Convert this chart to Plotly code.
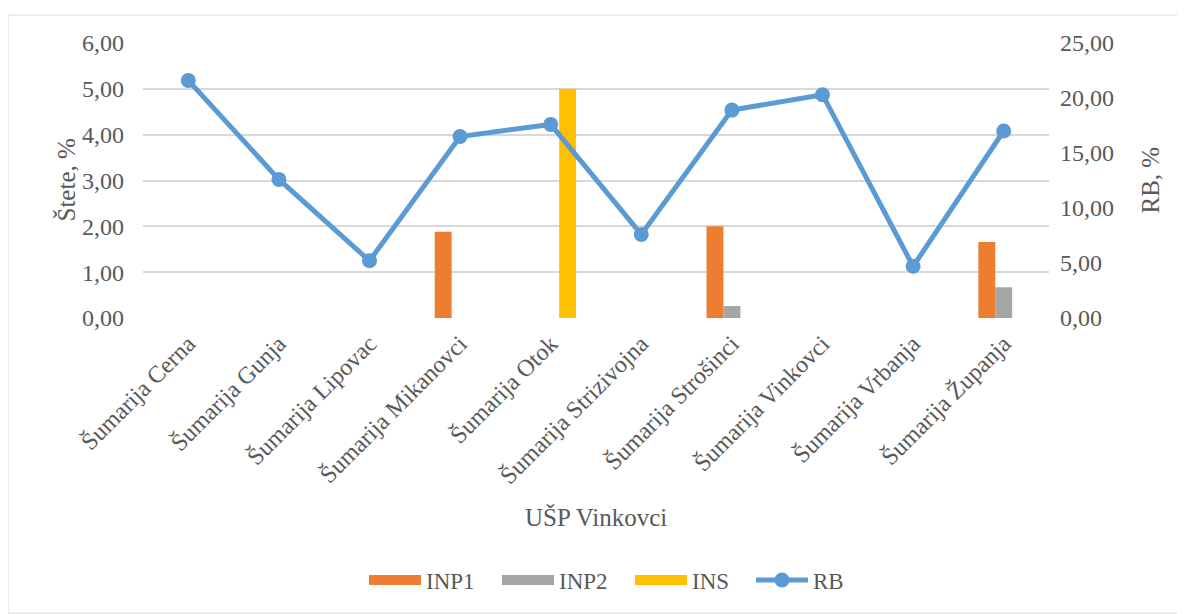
import plotly.graph_objects as go

categories = ["Šumarija Cerna", "Šumarija Gunja", "Šumarija Lipovac", "Šumarija Mikanovci",
              "Šumarija Otok", "Šumarija Strizivojna", "Šumarija Strošinci", "Šumarija Vinkovci",
              "Šumarija Vrbanja", "Šumarija Županja"]
inp1 = [None, None, None, 1.88, None, None, 2.00, None, None, 1.66]
inp2 = [None, None, None, None, None, None, 0.26, None, None, 0.67]
ins = [None, None, None, None, 5.00, None, None, None, None, None]
rb = [21.6, 12.6, 5.2, 16.5, 17.6, 7.6, 18.9, 20.3, 4.7, 17.0]
left_ticks = [0, 1, 2, 3, 4, 5, 6]
right_ticks = [0, 5, 10, 15, 20, 25]

FONT = "Liberation Serif"
TXT = "#595959"
C_INP1, C_INP2, C_INS, C_RB = "#ED7D31", "#A5A5A5", "#FFC000", "#5B9BD5"

fig = go.Figure()
fig.add_trace(go.Bar(x=categories, y=inp1, name="INP1", marker_color=C_INP1, showlegend=False))
fig.add_trace(go.Bar(x=categories, y=inp2, name="INP2", marker_color=C_INP2, showlegend=False))
fig.add_trace(go.Bar(x=categories, y=ins, name="INS", marker_color=C_INS, showlegend=False))
fig.add_trace(go.Scatter(x=categories, y=rb, name="RB", yaxis="y2", mode="lines+markers",
                         line=dict(color=C_RB, width=5),
                         marker=dict(color=C_RB, size=15), showlegend=False))
# legend entries (swatches styled like the reference)
for nm, col, lw in [("INP1", C_INP1, 66), ("INP2", C_INP2, 66), ("INS", C_INS, 54)]:
    fig.add_trace(go.Scatter(x=[None], y=[None], name=nm, mode="lines", legendwidth=lw,
                             line=dict(color=col, width=13)))
fig.add_trace(go.Scatter(x=[None], y=[None], name="RB", mode="lines+markers", yaxis="y2",
                         line=dict(color=C_RB, width=5), marker=dict(color=C_RB, size=15)))

L, T, PW, PH = 135, 35, 906, 275
fig.update_layout(
    template="none",
    width=1185, height=614,
    margin=dict(l=L, r=1185 - L - PW, t=T, b=614 - T - PH, pad=0),
    paper_bgcolor="white", plot_bgcolor="white",
    font=dict(family=FONT, color=TXT, size=24),
    barmode="group", bargap=0.44, bargroupgap=0,
    showlegend=True,
    legend=dict(orientation="h", x=(364 - 143) / PW, xanchor="left", y=-0.953, yanchor="middle",
                font=dict(family=FONT, size=23, color=TXT), itemwidth=52,
                entrywidth=66, entrywidthmode="pixels",
                traceorder="normal", tracegroupgap=0, bgcolor="rgba(0,0,0,0)"),
    xaxis=dict(range=[-0.5, len(categories) - 0.5], autorange=False,
               tickangle=-45, tickfont=dict(family=FONT, size=24, color=TXT), showgrid=False,
               showline=False, ticks="", zeroline=False, ticklabelstandoff=6, automargin=False),
    yaxis=dict(range=[0, 6], tickvals=left_ticks,
               ticktext=[f"{v:.2f}".replace(".", ",") for v in left_ticks],
               showgrid=True, gridcolor="#D9D9D9", gridwidth=1.5, zeroline=False, showline=False,
               tickfont=dict(family=FONT, size=24, color=TXT), ticks="",
               ticklabelstandoff=18, automargin=False),
    yaxis2=dict(range=[0, 25], tickvals=right_ticks,
                ticktext=[f"{v:.2f}".replace(".", ",") for v in right_ticks],
                overlaying="y", side="right", showgrid=False, zeroline=False, showline=False,
                ticks="", tickfont=dict(family=FONT, size=24, color=TXT), ticklabelstandoff=10,
                automargin=False),
    annotations=[
        dict(text="UŠP Vinkovci", x=0.5, y=-0.724, xref="paper", yref="paper",
             showarrow=False, font=dict(family=FONT, size=25, color=TXT),
             xanchor="center", yanchor="middle"),
        dict(text="Štete, %", x=(65 - 143) / PW, y=0.5, xref="paper", yref="paper", textangle=-90,
             showarrow=False, font=dict(family=FONT, size=25, color=TXT),
             xanchor="center", yanchor="middle"),
        dict(text="RB, %", x=(1150 - 143) / PW, y=0.5, xref="paper", yref="paper", textangle=-90,
             showarrow=False, font=dict(family=FONT, size=25, color=TXT),
             xanchor="center", yanchor="middle"),
    ],
    shapes=[dict(type="rect", xref="paper", yref="paper",
                 x0=(8 - 143) / PW, x1=(1184 - 143) / PW,
                 y0=(318 - 613) / PH, y1=(318 - 15) / PH,
                 line=dict(color="#D9D9D9", width=1), fillcolor="rgba(0,0,0,0)", layer="below")],
)

fig.write_html("out.html")
